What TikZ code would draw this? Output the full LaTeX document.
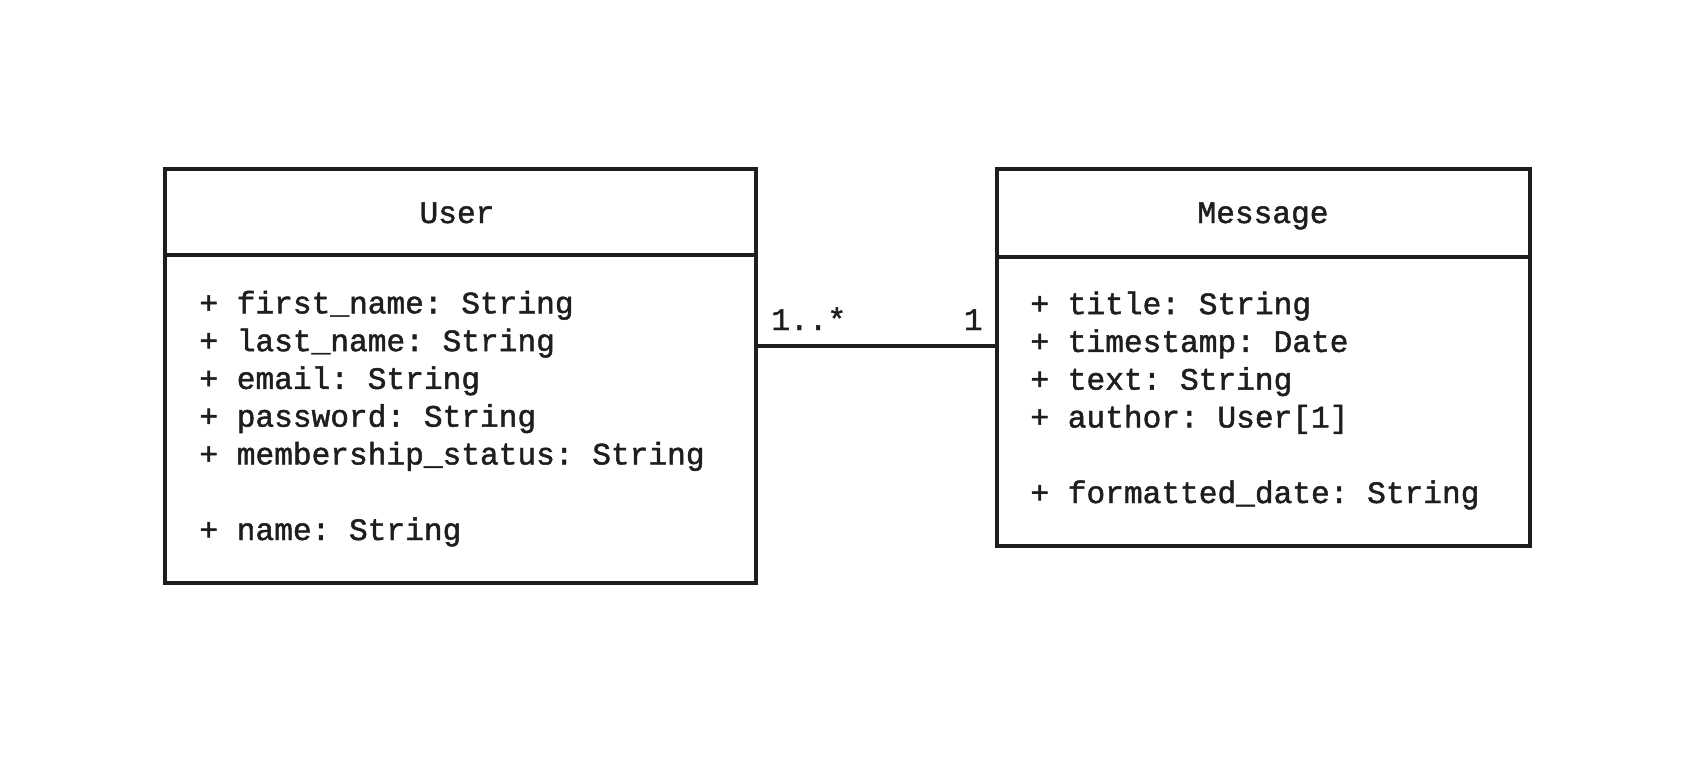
\documentclass[tikz,border=0pt]{standalone}
\usepackage{fontspec}
\usepackage{xcolor}
\usetikzlibrary{calc}
\usetikzlibrary{positioning}
\newfontfamily\codefont[FakeBold=1.5]{Liberation Mono}
\definecolor{ink}{HTML}{1E1E1E}
\frenchspacing

\begin{document}
\begin{tikzpicture}[x=0.02cm, y=-0.02cm]
\tikzset{
  base/.style={draw=ink, line width=2.3pt, outer sep=0pt, inner sep=0pt, anchor=north west},
  cls/.style={base, minimum width=11.82cm},
  msg/.style={base, minimum width=10.66cm},
  txt/.style={inner sep=0pt, text=ink, font=\codefont\fontsize{17.75}{21.5}\selectfont\frenchspacing},
  attr/.style={txt, align=left, anchor=base west},
  link/.style={draw=ink, line width=2pt},
}
\useasboundingbox (0,0) rectangle (1700,762);

% class User
\node [cls, minimum height=1.72cm] (userhead) at (165, 169) {};
\node [cls, minimum height=6.56cm] (userbody) at (165, 255) {};
\node [txt, anchor=base] at (457, 223) {User};
% base of a multi-line node is its last line
\node [attr] (userattr) at (199, 540) {+ first\_name: String\\
+ last\_name: String\\
+ email: String\\
+ password: String\\
+ membership\_status: String\\[21.5pt]
+ name: String};

% class Message
\node [msg, minimum height=1.76cm] (msghead) at (997, 169) {};
\node [msg, minimum height=5.78cm] (msgbody) at (997, 257) {};
\node [txt, anchor=base] at (1263, 223) {Message};
\node [attr] (msgattr) at (1030, 503) {+ title: String\\
+ timestamp: Date\\
+ text: String\\
+ author: User[1]\\[21.5pt]
+ formatted\_date: String};

% association
\coordinate (assoc) at (0, 346);
\draw [link] (userbody.east |- assoc) -- (msgbody.west |- assoc);
\node [txt, anchor=base west] (many) at (771, 330) {1..*};
\node [txt, anchor=base east] (one) at (983, 330) {1};
\end{tikzpicture}
\end{document}
